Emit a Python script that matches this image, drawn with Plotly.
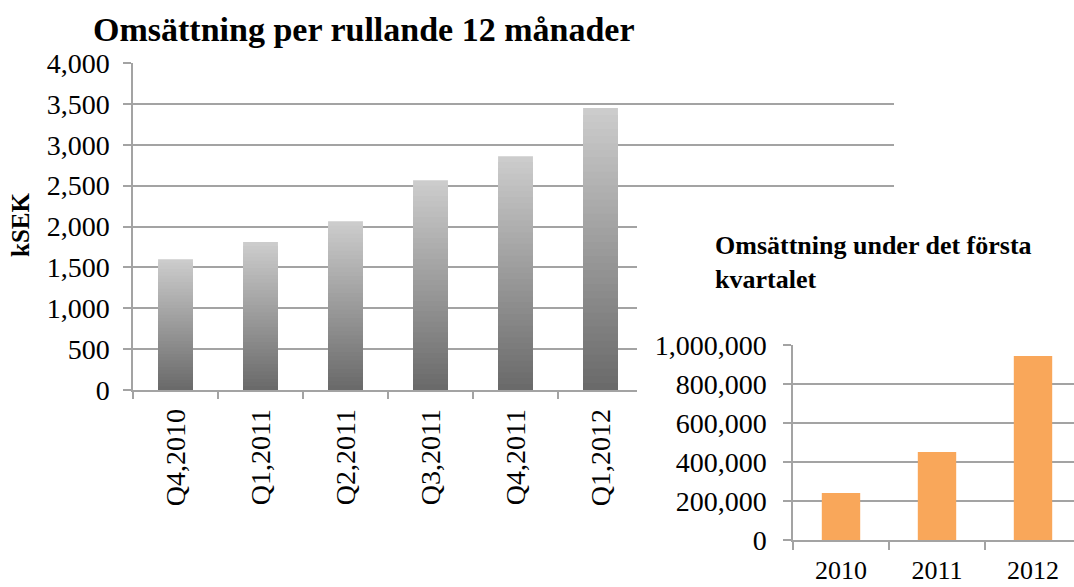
import plotly.graph_objects as go

# ---- data ----
quarters = ["Q4,2010", "Q1,2011", "Q2,2011", "Q3,2011", "Q4,2011", "Q1,2012"]
rolling_ksek = [1600, 1810, 2065, 2565, 2860, 3450]

years = ["2010", "2011", "2012"]
q1_revenue = [241000, 451000, 944000]

main_title = "Omsättning per rullande 12 månader"
inset_title = "Omsättning under det första<br>kvartalet"
y_title = "kSEK"

# ---- layout helpers ----
W, H = 1074, 587
def fx(p):
    return p / W
def fy(p):
    return 1 - p / H

FONT = "Liberation Serif"
GRID = "#a3a3a3"

fig = go.Figure()

# gradient bars: overlaid bars of decreasing height, light on top to dark at bottom
N = 40
top_rgb = (204, 204, 204)
bot_rgb = (106, 106, 106)
for k in range(N):
    t = k / (N - 1)
    c = tuple(int(round(top_rgb[i] + (bot_rgb[i] - top_rgb[i]) * t)) for i in range(3))
    frac = (N - k) / N
    fig.add_trace(go.Bar(
        x=quarters, y=[v * frac for v in rolling_ksek],
        marker=dict(color="rgb(%d,%d,%d)" % c, line=dict(width=0)),
        width=0.41, xaxis="x", yaxis="y", showlegend=False, hoverinfo="skip",
    ))

# extension of the upper gridlines (empty subplot)
fig.add_trace(go.Scatter(x=[], y=[], xaxis="x2", yaxis="y2", showlegend=False))

# inset bars
fig.add_trace(go.Bar(
    x=years, y=q1_revenue, marker=dict(color="#F9A75A", line=dict(width=0)),
    width=0.4, xaxis="x3", yaxis="y3", showlegend=False,
))

cat_w_main = 85.0
cat_w_inset = 96.0
TICK = 28

fig.update_layout(
    width=W, height=H,
    margin=dict(l=0, r=0, t=0, b=0, autoexpand=False),
    paper_bgcolor="white", plot_bgcolor="rgba(0,0,0,0)",
    barmode="overlay",
    font=dict(family=FONT, color="black", size=TICK),
    title=dict(text="<b>%s</b>" % main_title, x=fx(93), xanchor="left",
               y=fy(29), yanchor="middle", yref="container", xref="container",
               font=dict(family=FONT, size=34, color="black")),
    xaxis=dict(domain=[fx(133), fx(637)], type="category",
               range=[-0.5, -0.5 + (637 - 133) / cat_w_main],
               tickson="boundaries", ticks="outside", ticklen=7, tickwidth=1.5,
               tickcolor=GRID, showline=True, linecolor=GRID, linewidth=1.5,
               showgrid=False, tickangle=-90, ticklabelstandoff=6,
               tickfont=dict(family=FONT, size=TICK), anchor="y",
               automargin=False),
    yaxis=dict(domain=[fy(390), fy(63)], range=[0, 4000], dtick=500,
               tickformat=",d", ticks="outside", ticklen=8, tickwidth=1.5,
               tickcolor=GRID, showline=True, linecolor=GRID, linewidth=1.5,
               showgrid=True, gridcolor=GRID, gridwidth=1.5, zeroline=False,
               ticklabelstandoff=8, tickfont=dict(family=FONT, size=TICK),
               anchor="x", automargin=False),
    xaxis2=dict(domain=[fx(637), fx(894)], range=[0, 1], visible=False,
                anchor="y2", automargin=False),
    yaxis2=dict(domain=[fy(390), fy(63)], range=[0, 4000],
                tickvals=[2500, 3000, 3500, 4000], showticklabels=False,
                ticks="", showline=False, zeroline=False, showgrid=True,
                gridcolor=GRID, gridwidth=1.5, anchor="x2", automargin=False),
    xaxis3=dict(domain=[fx(793), 1.0], type="category",
                range=[-0.5, -0.5 + (W - 793) / cat_w_inset],
                tickson="boundaries", ticks="outside", ticklen=8, tickwidth=1.5,
                tickcolor=GRID, showline=True, linecolor=GRID, linewidth=1.5,
                showgrid=False, ticklabelstandoff=6,
                tickfont=dict(family=FONT, size=26), anchor="y3",
                automargin=False),
    yaxis3=dict(domain=[fy(540), fy(345)], range=[0, 1000000], dtick=200000,
                tickformat=",d", ticks="outside", ticklen=8, tickwidth=1.5,
                tickcolor=GRID, showline=True, linecolor=GRID, linewidth=1.5,
                showgrid=True, gridcolor=GRID, gridwidth=1.5, zeroline=False,
                ticklabelstandoff=11, tickfont=dict(family=FONT, size=TICK),
                anchor="x3", automargin=False),
    annotations=[
        dict(text="<b>%s</b>" % y_title, x=fx(21), y=fy(225), xref="paper",
             yref="paper", textangle=-90, showarrow=False, xanchor="center",
             yanchor="middle", font=dict(family=FONT, size=25, color="black")),
        dict(text="<b>%s</b>" % inset_title.replace("<br>", "</b><br><b>"),
             x=fx(713), y=fy(262), align="left",
             xref="paper", yref="paper", showarrow=False, xanchor="left",
             yanchor="middle", font=dict(family=FONT, size=26, color="black")),
    ],
)

fig.write_html("out.html", config={"displayModeBar": False},
               post_script="document.body.style.margin='0';document.body.style.padding='0';")
